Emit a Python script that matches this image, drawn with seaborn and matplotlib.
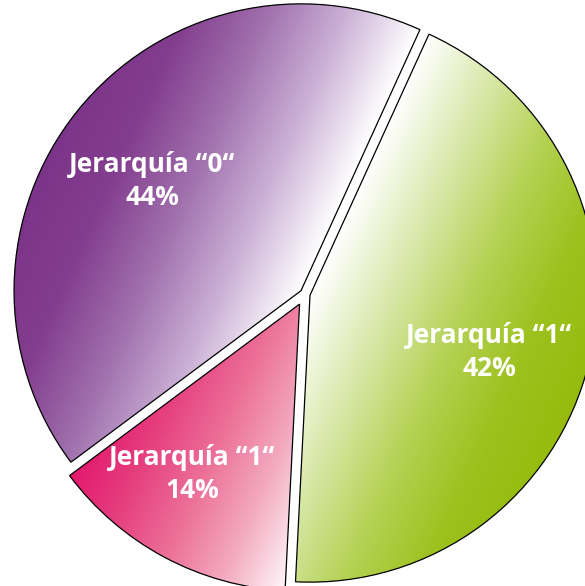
import numpy as np
import matplotlib
matplotlib.use("Agg")
import matplotlib.pyplot as plt
import seaborn as sns

# 数据：按绘制顺序（逆时针，从紫色开始）
labels = ['Jerarquía “0“', 'Jerarquía “1“', 'Jerarquía “1“']
shares = [42, 14, 44]            # 扇区实际大小（按图中角度读取）
pct_text = ['44%', '14%', '42%']  # 图中标注的百分比

# 渐变色（沿渐变方向从起点到终点）
gradients = [
    ["#7b3389", "#833d8e", "#a070ad", "#cbb0d6", "#ffffff"],
    ["#e3176d", "#e6407f", "#ec7098", "#f3aac0", "#fff7fa"],
    ["#ffffff", "#d9e8aa", "#b5d255", "#9dc11d", "#95bb0c"],
]

sns.set_theme(style="white")
plt.rcParams['font.family'] = ['Open Sans', 'DejaVu Sans']

fig = plt.figure(figsize=(5.85, 5.86), dpi=100)
ax = fig.add_axes([0, 0, 1, 1])
xlim = (-1.063, 0.976)
ylim = (-1.017, 1.024)

explode = [0.018, 0.04, 0.018]
wedges, _ = ax.pie(shares, startangle=65.5, counterclock=True,
                   explode=explode, radius=1.0,
                   wedgeprops=dict(facecolor='none', edgecolor='black',
                                   linewidth=0.9, zorder=3))

# 线性渐变方向（数据坐标）
d = np.array([0.91, -0.41])
xs = np.linspace(xlim[0], xlim[1], 600)
ys = np.linspace(ylim[0], ylim[1], 600)
X, Y = np.meshgrid(xs, ys)
P = X * d[0] + Y * d[1]

# 标签位置：半径、相对扇区中线的角度偏移
label_r = [0.645, 0.70, 0.656]
label_dang = [2.5, -4.2, -3.9]
for w, cols, txt, pct, lr, da in zip(wedges, gradients, labels, pct_text,
                                     label_r, label_dang):
    verts = w.get_path().vertices
    proj = verts @ d
    t = np.clip((P - proj.min()) / (proj.max() - proj.min()), 0, 1)
    cmap = sns.blend_palette(cols, as_cmap=True)
    im = ax.imshow(t, extent=[xlim[0], xlim[1], ylim[0], ylim[1]], origin='lower',
                   cmap=cmap, vmin=0, vmax=1, zorder=1, interpolation='bilinear')
    im.set_clip_path(w)

    mid = np.deg2rad((w.theta1 + w.theta2) / 2 + da)
    cx, cy = w.center
    ax.text(cx + lr * np.cos(mid), cy + lr * np.sin(mid), f"{txt}\n{pct}",
            ha='center', va='center', color='white', fontsize=19,
            fontweight='bold', linespacing=1.28, zorder=4)

ax.set_xlim(*xlim)
ax.set_ylim(*ylim)
ax.set_aspect('equal')
ax.axis('off')

plt.savefig("out.png", dpi=100)
plt.close()
